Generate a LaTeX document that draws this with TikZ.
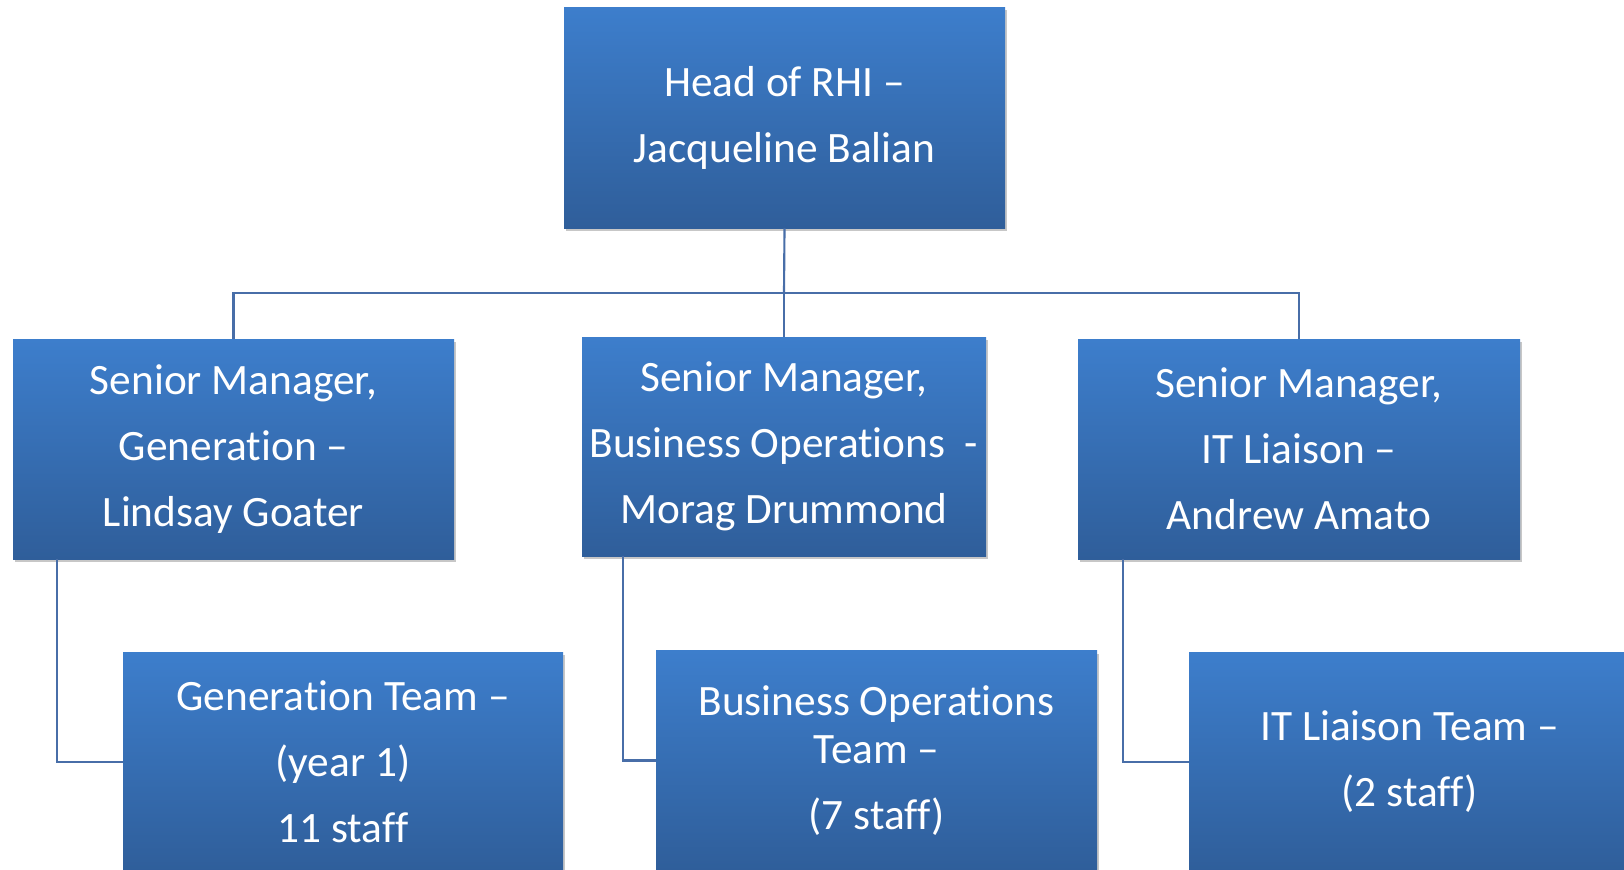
\documentclass[tikz,border=0pt]{standalone}
\usepackage{fontspec}
\setmainfont{Carlito}[Ligatures=NoCommon]
\usetikzlibrary{shadows}
\definecolor{boxtop}{RGB}{61,126,204}
\definecolor{boxbot}{RGB}{47,94,154}
\definecolor{linecol}{RGB}{72,110,168}
\tikzset{
  orgbox/.style={rectangle, inner sep=0pt, top color=boxtop, bottom color=boxbot,
    draw=none, text=white, align=center,
    font=\fontsize{32.5}{49.5}\selectfont,
    drop shadow={shadow xshift=1.5pt, shadow yshift=-2.5pt, fill=black, opacity=0.22}},
  conn/.style={draw=linecol, line width=1.6pt}
}
\begin{document}
\begin{tikzpicture}[x=0.75pt, y=-0.75pt]
\useasboundingbox (0,0) rectangle (1624,869);
\clip (0,0) rectangle (1624,869);
\fill[white] (0,0) rectangle (1624,869);
% top
\node[orgbox, minimum width=441*0.75pt, minimum height=221*0.75pt] (head) at (784.5,117.5)
  {Head of RHI –\\Jacqueline Balian};
% managers
\node[orgbox, minimum width=441*0.75pt, minimum height=220*0.75pt] (lm) at (233.5,449)
  {Senior Manager,\\Generation –\\Lindsay Goater};
\node[orgbox, minimum width=404*0.75pt, minimum height=219*0.75pt] (mm) at (784,446.5)
  {Senior Manager,\\Business Operations\ \ -\\Morag Drummond};
\node[orgbox, minimum width=442*0.75pt, minimum height=220*0.75pt] (rm) at (1299,449)
  {Senior Manager,\\IT Liaison –\\Andrew Amato};
% teams
\node[orgbox, minimum width=440*0.75pt, minimum height=220*0.75pt] (lc) at (343,762)
  {Generation Team –\\(year 1)\\11 staff};
\node[orgbox, minimum width=441*0.75pt, minimum height=220*0.75pt] (mc) at (876.5,760.5)
  {Business Operations\\[-13pt]Team –\\(7 staff)};
\node[orgbox, minimum width=441*0.75pt, minimum height=220*0.75pt] (rc) at (1409.5,762)
  {IT Liaison Team –\\(2 staff)};
% connectors
\coordinate (bus) at (784,293);
\draw[conn] (head.south) -- (bus);
\draw[conn] (lm.north) |- (bus) -| (rm.north);
\draw[conn] (bus) -- (mm.north);
\draw[conn] ([xshift=44*0.75pt]lm.south west) |- (lc.west);
\draw[conn] ([xshift=41*0.75pt]mm.south west) |- (mc.west);
\draw[conn] ([xshift=45*0.75pt]rm.south west) |- (rc.west);
\end{tikzpicture}
\end{document}
